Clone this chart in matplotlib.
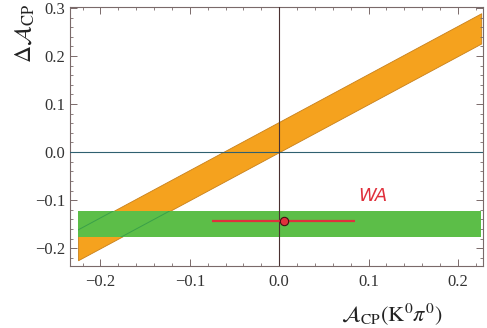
import numpy as np
import matplotlib
matplotlib.use("Agg")
import matplotlib.pyplot as plt
from matplotlib.ticker import MultipleLocator, FuncFormatter
from matplotlib.patches import Rectangle

# orange band: Delta A_CP = A_CP(K0 pi0) + offset, offset in [band_lo, band_hi]
band_x = [-0.225, 0.226]
band_lo = 0.0
band_hi = 0.063

# green band (world average Delta A_CP)
wa_dacp_lo = -0.176
wa_dacp_hi = -0.122
wa_x_range = [-0.225, 0.226]

# WA point
wa_x = 0.005
wa_y = -0.144
wa_xerr = 0.08

orange = "#f5a21e"
green = "#5cbe48"
red = "#e0303c"

plt.rcParams["mathtext.fontset"] = "stix"
plt.rcParams["font.family"] = ["Liberation Serif", "DejaVu Serif"]

fig = plt.figure(figsize=(4.87, 3.28), dpi=100)
ax = fig.add_axes([70 / 487, 1 - 266 / 328, 413 / 487, 259.5 / 328])

xs = np.array(band_x)
ax.fill_between(xs, xs + band_lo, xs + band_hi, color=orange,
                edgecolor="#c8801a", linewidth=0.6, zorder=1)
green_box = Rectangle((wa_x_range[0], wa_dacp_lo),
                      wa_x_range[1] - wa_x_range[0], wa_dacp_hi - wa_dacp_lo,
                      facecolor=green, linewidth=0, zorder=2)
ax.add_patch(green_box)
# orange band edges visible through green
for off in (band_lo, band_hi):
    ln, = ax.plot(xs, xs + off, color="#3aa048", lw=0.7, zorder=3)
    ln.set_clip_path(green_box)

ax.axhline(0, color="#2f6070", lw=0.8, zorder=4)
ax.axvline(0, color="#4a3030", lw=0.8, zorder=4)

ax.errorbar([wa_x], [wa_y], xerr=[wa_xerr], fmt="o", color=red,
            ecolor=red, elinewidth=1.6, capsize=0, markersize=6,
            markeredgecolor="#401010", markeredgewidth=0.8, zorder=5)
ax.text(0.105, -0.092, "WA", color=red, fontsize=13, style="italic",
        family="DejaVu Sans", ha="center", va="center")

ax.set_xlim(-0.234, 0.228)
ax.set_ylim(-0.237, 0.303)
ax.xaxis.set_major_locator(MultipleLocator(0.1))
ax.xaxis.set_minor_locator(MultipleLocator(0.02))
ax.yaxis.set_major_locator(MultipleLocator(0.1))
ax.yaxis.set_minor_locator(MultipleLocator(0.02))
fmt = FuncFormatter(lambda v, p: f"{v:.1f}".replace("-", "\u2212"))
ax.xaxis.set_major_formatter(fmt)
ax.yaxis.set_major_formatter(fmt)

frame_col = "#7a6a6a"
for s in ax.spines.values():
    s.set_color(frame_col)
    s.set_linewidth(0.8)
ax.tick_params(which="both", direction="in", top=True, right=True,
               colors=frame_col, labelcolor="#333333", labelsize=12)
ax.tick_params(which="major", length=5, width=0.7)
ax.tick_params(which="minor", length=2.5, width=0.6)
ax.tick_params(axis="x", pad=6)

fig.text(25 / 487, 1 - 33 / 328, r"$\Delta\mathcal{A}_{\rm CP}$",
         rotation=90, ha="center", va="center", fontsize=17, color="#222222")
fig.text(392 / 487, 1 - 314 / 328, r"$\mathcal{A}_{\rm CP}({\rm K}^0\pi^0)$",
         ha="center", va="center", fontsize=16, color="#222222")

fig.savefig("out.png", dpi=100)
